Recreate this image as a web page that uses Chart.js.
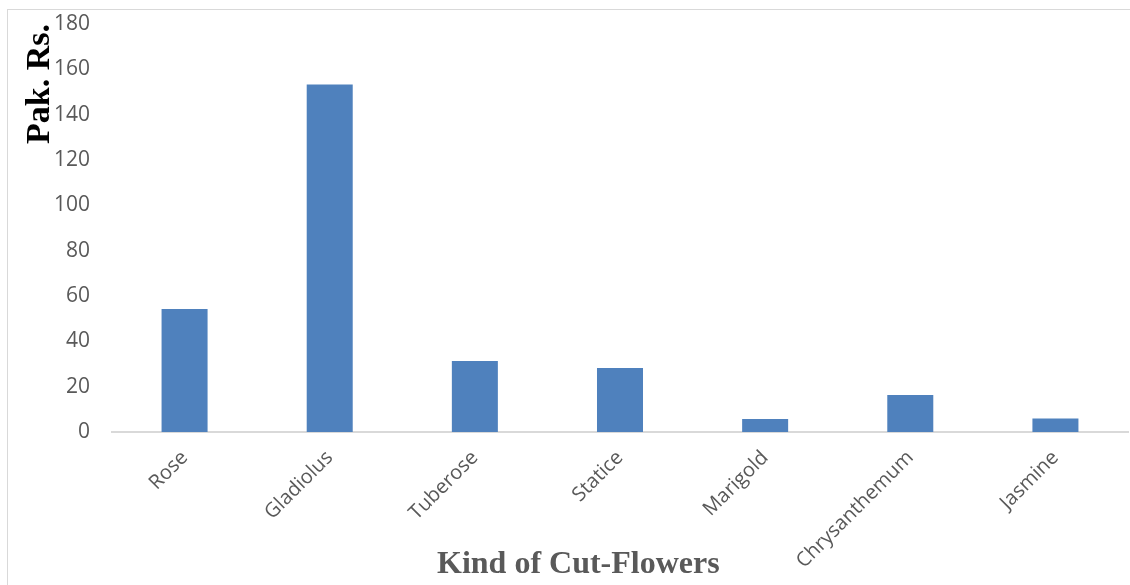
<!DOCTYPE html>
<html>
<head>
<meta charset="utf-8">
<script src="https://cdn.jsdelivr.net/npm/chart.js@4.4.1/dist/chart.umd.min.js"></script>
<style>
  html, body { margin: 0; padding: 0; background: #fff; }
  #frame { position: absolute; left: 7px; top: 9px; width: 1140px; height: 600px; border: 1px solid #d9d9d9; }
  #wrap { position: absolute; left: 0; top: 0; width: 1130px; height: 585px; }
</style>
</head>
<body>
<div id="frame"></div>
<div id="wrap"><canvas id="flowerChart" width="1130" height="585"></canvas></div>
<script>
var flowers = ['Rose', 'Gladiolus', 'Tuberose', 'Statice', 'Marigold', 'Chrysanthemum', 'Jasmine'];
var prices = [54.3, 153.3, 31.3, 28.2, 5.7, 16.3, 6];
var yTicks = [0, 20, 40, 60, 80, 100, 120, 140, 160, 180];

// x axis title sits a bit left of centre in the original
var xTitlePlugin = {
    id: 'xTitle',
    afterDraw: function (chart) {
        var ctx = chart.ctx;
        var area = chart.chartArea;
        ctx.save();
        ctx.font = 'bold 32px "Liberation Serif", "Times New Roman", serif';
        ctx.fillStyle = '#595959';
        ctx.textAlign = 'center';
        ctx.textBaseline = 'alphabetic';
        ctx.fillText('Kind of Cut-Flowers', area.left + (area.right - area.left) * 0.459, 573);
        ctx.restore();
    }
};

var ctx = document.getElementById('flowerChart').getContext('2d');
var chart = new Chart(ctx, {
    type: 'bar',
    data: {
        labels: flowers,
        datasets: [{
            label: 'Pak. Rs.',
            data: prices,
            backgroundColor: '#4f81bd',
            borderColor: '#4f81bd',
            borderWidth: 0,
            categoryPercentage: 1,
            barPercentage: 0.317
        }]
    },
    options: {
        responsive: false,
        animation: false,
        layout: { padding: { left: 20, top: 24, right: 2, bottom: 0 } },
        plugins: {
            legend: { display: false },
            tooltip: { enabled: false }
        },
        scales: {
            y: {
                min: 0,
                max: 180,
                afterFit: function (scale) {
                    scale.width = 92;
                    scale.paddingTop = 0;
                    scale.paddingBottom = 0;
                },
                afterBuildTicks: function (scale) {
                    scale.ticks = yTicks.map(function (v) { return { value: v }; });
                },
                border: { display: false },
                grid: { display: false, drawTicks: false },
                ticks: {
                    color: '#595959',
                    padding: 22,
                    font: { family: '"Open Sans", sans-serif', size: 21 }
                },
                title: {
                    display: true,
                    text: 'Pak. Rs.',
                    align: 'end',
                    color: '#000000',
                    padding: { top: 0, bottom: 0 },
                    font: { family: '"Liberation Serif", "Times New Roman", serif', size: 34, weight: 'bold' }
                }
            },
            x: {
                afterFit: function (scale) { scale.height = 153; },
                border: { display: true, color: '#d9d9d9', width: 2 },
                grid: { display: false, drawTicks: false },
                ticks: {
                    color: '#595959',
                    minRotation: 45,
                    maxRotation: 45,
                    padding: 14,
                    font: { family: '"Open Sans", sans-serif', size: 20 }
                }
            }
        }
    },
    plugins: [xTitlePlugin]
});
</script>
</body>
</html>
